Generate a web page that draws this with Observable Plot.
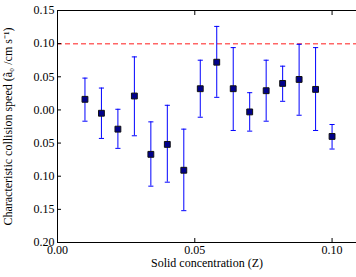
<!DOCTYPE html>
<html>
<head>
<meta charset="utf-8">
<script src="https://cdn.jsdelivr.net/npm/d3@7"></script>
<script src="https://cdn.jsdelivr.net/npm/@observablehq/plot@0.6"></script>
<style>
  html, body { margin: 0; padding: 0; background: white; }
</style>
</head>
<body>
<div id="chart"></div>
<script>
const concentration = [0.010, 0.016, 0.022, 0.028, 0.034, 0.040, 0.046, 0.052, 0.058, 0.064, 0.070, 0.076, 0.082, 0.088, 0.094, 0.100];
const speed = [0.016, -0.005, -0.029, 0.021, -0.067, -0.052, -0.091, 0.032, 0.072, 0.032, -0.003, 0.029, 0.040, 0.046, 0.031, -0.040];
const upper = [0.048, 0.033, 0.001, 0.080, -0.018, 0.007, -0.029, 0.075, 0.126, 0.094, 0.026, 0.075, 0.066, 0.099, 0.094, -0.022];
const lower = [-0.017, -0.043, -0.058, -0.039, -0.115, -0.109, -0.152, -0.011, 0.019, -0.031, -0.032, -0.017, 0.013, -0.008, -0.031, -0.059];
const threshold = [0.10];
const xTicks = [0.00, 0.05, 0.10];
const xTickLabels = ["0.00", "0.05", "0.10"];
const yTicks = [-0.20, -0.15, -0.10, -0.05, 0.00, 0.05, 0.10, 0.15];
const yTickLabels = ["0.20", "0.15", "0.10", "0.05", "0.00", "0.05", "0.10", "0.15"];
const xLabel = "Solid concentration (Z)";
const yLabel = "Characteristic collision speed (ã₀ /cm s⁻¹)";

const data = concentration.map((x, i) => ({x, y: speed[i], hi: upper[i], lo: lower[i]}));

const capSymbol = {
  draw(context, size) {
    const w = Math.sqrt(size) / 2;
    context.moveTo(-w, 0);
    context.lineTo(w, 0);
  }
};

const chart = Plot.plot({
  width: 356,
  height: 277,
  marginLeft: 57,
  marginRight: 0,
  marginTop: 10,
  marginBottom: 35,
  style: {fontFamily: "'Liberation Serif', serif", fontSize: "12px", background: "white", color: "black", overflow: "visible"},
  x: {domain: [0, 0.1089]},
  y: {domain: [-0.20, 0.15]},
  marks: [
    Plot.ruleY(threshold, {stroke: "red", strokeOpacity: 0.6, strokeWidth: 1.5, strokeDasharray: "5,3"}),
    Plot.ruleX(data, {x: "x", y1: "lo", y2: "hi", stroke: "blue", strokeWidth: 1}),
    Plot.dot(data, {x: "x", y: "hi", symbol: capSymbol, r: 2.9, stroke: "blue", strokeWidth: 1, fill: "none"}),
    Plot.dot(data, {x: "x", y: "lo", symbol: capSymbol, r: 2.9, stroke: "blue", strokeWidth: 1, fill: "none"}),
    Plot.dot(data, {x: "x", y: "y", symbol: "square", r: 3.3, fill: "#00008b", stroke: "#111", strokeWidth: 1}),
    // frame lines
    Plot.ruleX([0], {stroke: "black", strokeWidth: 1}),
    Plot.ruleY([-0.20], {stroke: "black", strokeWidth: 1}),
    Plot.ruleY([0.15], {stroke: "black", strokeWidth: 1}),
    // inward ticks
    Plot.axisY({ticks: yTicks, tickSize: 4, dx: 4, tickFormat: () => "", label: null}),
    Plot.axisX({ticks: xTicks, tickSize: 4, dy: -4, tickFormat: () => "", label: null}),
    Plot.axisX({anchor: "top", ticks: xTicks, tickSize: 4, dy: 4, tickFormat: () => "", label: null}),
    // tick labels
    Plot.axisY({ticks: yTicks, tickSize: 0, tickPadding: 3, tickFormat: d => yTickLabels[yTicks.indexOf(d)], label: null}),
    Plot.axisX({ticks: xTicks, tickSize: 0, tickPadding: 3, tickFormat: d => xTickLabels[xTicks.indexOf(d)], label: null}),
    // axis titles
    Plot.text([xLabel], {text: d => d, frameAnchor: "bottom", dy: 24, fontSize: 12}),
    Plot.axisY({ticks: [], tickSize: 0, label: yLabel, labelAnchor: "center", labelArrow: "none", labelOffset: 54, dy: -6})
  ]
});
document.getElementById("chart").appendChild(chart);
</script>
</body>
</html>
